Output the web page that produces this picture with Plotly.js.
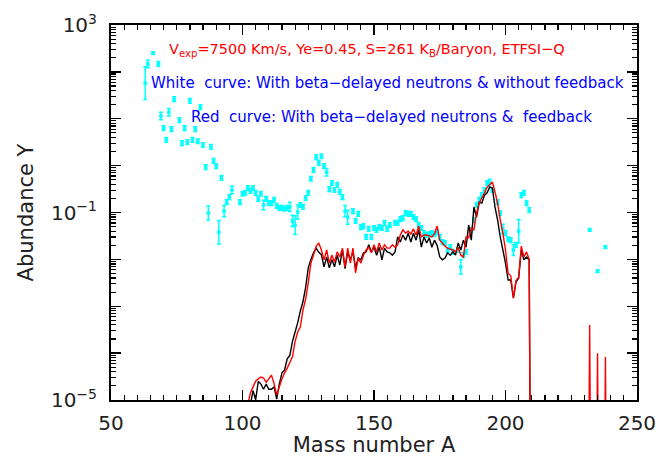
<!DOCTYPE html>
<html><head><meta charset="utf-8">
<script src="https://cdn.plot.ly/plotly-3.0.1.min.js"></script>
<style>html,body{margin:0;padding:0;background:#fff}#chart{width:664px;height:457px}</style>
</head><body><div id="chart"></div>
<script>
// Solar r-process abundances (cyan points): mass number, log10(Y), log error (dex)
const solarA = [63,64,66,68,69,70,71,72,73,74,76,77,78,79,80,81,82,83,84,85,86,87,88,89,90,91,92,93,94,95,96,99,100,101,102,103,104,105,106,107,108,109,110,111,112,113,114,115,116,117,118,119,120,121,122,123,124,125,126,127,128,129,130,131,132,133,134,135,136,137,138,139,140,142,143,144,145,146,147,148,149,150,151,152,153,154,155,156,158,159,160,161,162,163,164,165,166,167,168,169,170,171,172,173,174,175,176,177,178,179,180,182,183,184,185,187,188,189,190,191,192,193,194,195,197,198,199,200,201,202,203,204,205,206,207,208,209,232,235,238];
const solarLogY = [1.76,2.17,2.40,2.17,1.06,0.80,0.55,1.14,0.78,1.42,0.97,0.48,0.80,0.50,1.38,0.55,0.78,0.52,1.25,0.44,-0.03,-1.01,0.40,0.10,-0.01,-1.42,-0.26,-0.97,-0.78,-0.67,-0.52,-0.78,-0.60,-0.58,-0.48,-0.54,-0.48,-0.58,-0.71,-0.60,-0.84,-0.71,-0.80,-0.80,-0.73,-0.86,-0.90,-0.90,-0.92,-0.90,-0.88,-1.18,-1.27,-0.99,-0.84,-0.88,-0.69,-0.58,-0.28,-0.09,0.18,0.06,0.20,-0.01,-0.14,-0.50,-0.37,-0.52,-0.41,-0.56,-0.67,-0.97,-1.10,-0.97,-1.18,-1.03,-1.31,-1.29,-1.52,-1.35,-1.52,-1.33,-1.37,-1.31,-1.33,-1.22,-1.35,-1.27,-1.22,-1.22,-1.14,-1.12,-1.01,-1.03,-1.03,-1.10,-1.14,-1.27,-1.33,-1.44,-1.48,-1.46,-1.44,-1.46,-1.42,-1.52,-1.63,-1.65,-1.80,-1.74,-1.84,-1.80,-2.16,-1.91,-1.84,-1.37,-1.16,-0.84,-0.73,-0.63,-0.52,-0.37,-0.37,-0.52,-0.78,-1.01,-1.35,-1.44,-1.57,-1.59,-1.80,-1.69,-1.40,-0.63,-0.58,-0.80,-0.95,-1.37,-2.25,-1.74];
const solarErrDex = [0.35,0.08,0.03,0.05,0.08,0.05,0.05,0.08,0.05,0.05,
  0.05,0.05,0.05,0.05,0.05,0.05,0.05,0.05,0.05,0.05,
  0.05,0.15,0.05,0.05,0.05,0.25,0.05,0.12,0.05,0.05,
  0.08,0.05,0.05,0.05,0.05,0.05,0.05,0.05,0.05,0.05,
  0.10,0.05,0.05,0.05,0.05,0.05,0.05,0.05,0.05,0.05,
  0.10,0.12,0.20,0.15,0.05,0.05,0.05,0.05,0.05,0.05,
  0.05,0.05,0.05,0.05,0.08,0.05,0.05,0.05,0.05,0.05,
  0.05,0.12,0.15,0.05,0.05,0.05,0.05,0.05,0.05,0.05,
  0.05,0.05,0.05,0.05,0.05,0.05,0.05,0.05,0.05,0.05,
  0.05,0.05,0.05,0.05,0.05,0.05,0.05,0.05,0.05,0.05,
  0.05,0.05,0.05,0.05,0.05,0.05,0.05,0.05,0.05,0.05,
  0.05,0.05,0.15,0.05,0.05,0.05,0.05,0.05,0.05,0.05,
  0.05,0.05,0.08,0.05,0.05,0.05,0.10,0.05,0.05,0.05,
  0.12,0.05,0.25,0.05,0.05,0.05,0.05,
  0.03,0.03,0.03];

// Model curves, consecutive mass numbers starting at modelStartA (log10 Y)
const modelStartA = 101;
const whiteCurveLogY = [
  -6,-5.6,-5.1,-4.8,-5.0,-4.6,-4.66,-4.77,-4.66,-4.77,
  -4.77,-4.72,-4.98,-4.66,-4.42,-4.36,-4.12,-4.05,-3.75,-3.55,
  -3.35,-3.1,-2.9,-2.6,-2.18,-2.0,-1.86,-1.76,-1.85,-1.90,
  -2.16,-1.95,-2.18,-2.01,-2.16,-1.91,-2.12,-1.80,-2.20,-1.84,
  -2.01,-1.84,-2.18,-1.97,-2.01,-1.86,-1.84,-1.69,-1.84,-1.74,
  -1.91,-1.74,-2.01,-1.76,-1.84,-1.86,-1.91,-1.84,-1.52,-1.63,
  -1.48,-1.59,-1.44,-1.63,-1.44,-1.59,-1.37,-1.74,-1.52,-1.65,
  -1.54,-1.74,-1.59,-1.70,-1.95,-2.01,-1.97,-1.86,-1.91,-1.84,
  -1.91,-1.65,-1.80,-1.59,-1.74,-1.27,-1.59,-0.88,-1.10,-0.78,
  -0.80,-0.63,-0.58,-0.46,-0.48,-0.88,-1.16,-1.52,-1.80,-2.08,
  -2.44,-2.44,-2.82,-2.48,-2.40,-1.80,-2.01,-1.95,-2.01,-12];
const redCurveLogY = [
  -6,-5.1,-4.85,-4.72,-4.6,-4.55,-4.51,-4.53,-4.62,-4.55,
  -4.47,-4.65,-4.89,-4.72,-4.55,-4.42,-4.32,-4.2,-4.08,-3.75,
  -3.55,-3.44,-3.08,-2.85,-2.5,-2.08,-1.91,-1.72,-1.65,-1.80,
  -2.01,-1.80,-2.08,-1.91,-2.06,-1.84,-1.95,-1.76,-2.16,-1.76,
  -2.08,-1.76,-2.29,-1.97,-2.08,-1.91,-1.80,-1.74,-1.86,-1.69,
  -1.84,-1.65,-1.80,-1.69,-1.76,-1.76,-1.69,-1.74,-1.69,-1.48,
  -1.37,-1.44,-1.40,-1.46,-1.35,-1.48,-1.29,-1.52,-1.48,-1.48,
  -1.50,-1.52,-1.45,-1.29,-1.59,-1.65,-1.72,-1.76,-1.78,-1.80,
  -1.84,-1.74,-1.91,-1.95,-1.52,-1.54,-1.33,-1.37,-1.01,-0.80,
  -0.69,-0.58,-0.46,-0.41,-0.35,-0.56,-0.80,-1.16,-1.44,-1.80,
  -2.30,-2.35,-2.83,-2.45,-2.38,-1.72,-1.95,-1.84,-2.0,-12];
const redTailA = [231,232,233,234,235,236,237,238,239];
const redTailLogY = [-12,-3.40,-12,-12,-4.0,-12,-12,-4.08,-12];

const xTickVals = [50,100,150,200,250];
const yTickText = ['10<sup>−5</sup>','','','','10<sup>−1</sup>','','','','10<sup>3</sup>'];

const p10 = v => Math.pow(10, v);
const solarY = solarLogY.map(p10);
const errPlus = solarLogY.map((v,i) => p10(v + solarErrDex[i]) - p10(v));
const errMinus = solarLogY.map((v,i) => p10(v) - p10(v - solarErrDex[i]));

const whiteA = whiteCurveLogY.map((_,i) => modelStartA + i);
const redA = redCurveLogY.map((_,i) => modelStartA + i).concat(redTailA);
const redY = redCurveLogY.concat(redTailLogY).map(p10);

const yTickVals = [], yMinor = [];
for (let e = -5; e <= 3; e++) {
  yTickVals.push(p10(e));
  if (e < 3) for (let m = 2; m <= 9; m++) yMinor.push(m * p10(e));
}

const FONT = 'DejaVu Sans, sans-serif';
const traces = [
  {x: solarA, y: solarY, type: 'scatter', mode: 'markers',
   marker: {symbol: 'square', size: 3.5, color: '#00ffff'},
   error_y: {type: 'data', symmetric: false, array: errPlus, arrayminus: errMinus,
             color: '#00ffff', thickness: 1.5, width: 2},
   hoverinfo: 'x+y'},
  {x: whiteA, y: whiteCurveLogY.map(p10), type: 'scatter', mode: 'lines',
   line: {color: '#000000', width: 1.4, simplify: false}},
  {x: redA, y: redY, type: 'scatter', mode: 'lines',
   line: {color: '#ff0000', width: 1.4, simplify: false}}
];

const tickCommon = {ticks: 'inside', tickcolor: '#000', tickwidth: 1.3, ticklen: 10,
  showline: true, linecolor: '#000', linewidth: 2, mirror: 'ticks',
  showgrid: false, zeroline: false,
  tickfont: {family: FONT, size: 20, color: '#222'}};

const layout = {
  width: 664, height: 457,
  margin: {l: 111, r: 27, t: 25, b: 57},
  paper_bgcolor: '#fff', plot_bgcolor: '#fff',
  showlegend: false,
  xaxis: Object.assign({}, tickCommon, {
    range: [50, 250], tickmode: 'array', tickvals: xTickVals,
    ticklabelstandoff: 4,
    minor: {dtick: 5, tick0: 50, ticks: 'inside', ticklen: 5, tickcolor: '#000', tickwidth: 1.2},
    title: {text: 'Mass number A', font: {family: FONT, size: 21, color: '#222'}, standoff: 1}
  }),
  yaxis: Object.assign({}, tickCommon, {
    type: 'log', range: [-5, 3], tickmode: 'array', tickvals: yTickVals, ticktext: yTickText,
    ticklabelstandoff: 8,
    minor: {tickmode: 'array', tickvals: yMinor, ticks: 'inside', ticklen: 5, tickcolor: '#000', tickwidth: 1.2},
    title: {text: 'Abundance Y', font: {family: FONT, size: 21, color: '#222'}, standoff: 12}
  }),
  annotations: [
    {xref: 'paper', yref: 'paper', x: 0.106, y: 0.933, xanchor: 'left', yanchor: 'middle', showarrow: false,
     text: 'V<sub>exp</sub>=7500 Km/s, Ye=0.45, S=261 K<sub>B</sub>/Baryon, ETFSI−Q',
     font: {family: FONT, size: 14.5, color: '#ff0000'}},
    {xref: 'paper', yref: 'paper', x: 0.072, y: 0.845, xanchor: 'left', yanchor: 'middle', showarrow: false,
     text: 'White\u00a0 curve: With beta−delayed neutrons & without feedback',
     font: {family: FONT, size: 15, color: '#0000ff'}},
    {xref: 'paper', yref: 'paper', x: 0.148, y: 0.755, xanchor: 'left', yanchor: 'middle', showarrow: false,
     text: 'Red\u00a0 curve: With beta−delayed neutrons &\u00a0 feedback',
     font: {family: FONT, size: 15, color: '#0000ff'}}
  ]
};

Plotly.newPlot('chart', traces, layout, {displayModeBar: false, staticPlot: true});
</script>
</body></html>
